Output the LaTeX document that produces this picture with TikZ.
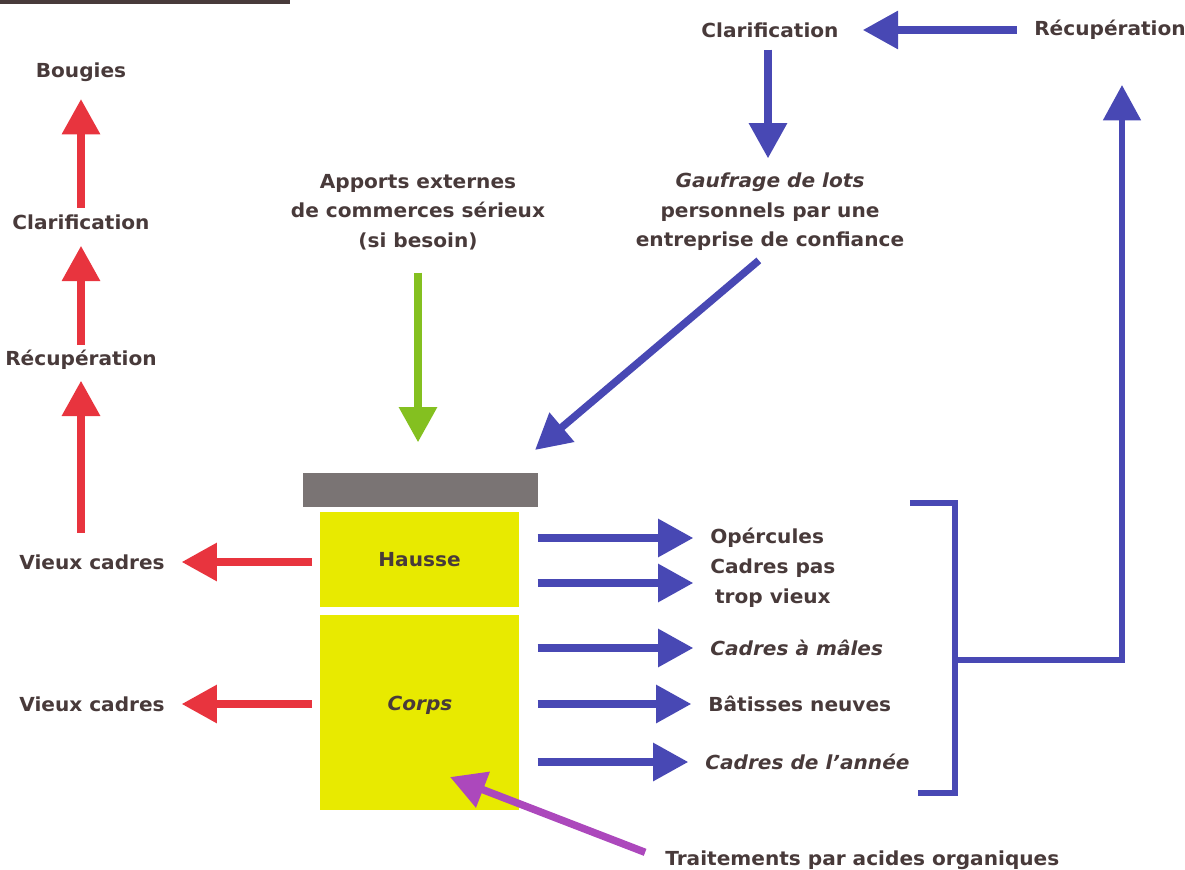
\documentclass[tikz,border=0pt]{standalone}
\usepackage{fontspec}
\setmainfont{DejaVu Sans}[FakeStretch=1.04]
\usepackage{xcolor}
\usetikzlibrary{arrows.meta}

\definecolor{flecheRouge}{RGB}{232,52,62}
\definecolor{flecheBleue}{RGB}{72,72,180}
\definecolor{flecheVerte}{RGB}{132,192,32}
\definecolor{flecheViolette}{RGB}{172,72,188}
\definecolor{cire}{RGB}{232,234,0}
\definecolor{toit}{RGB}{122,116,116}
\definecolor{encre}{RGB}{72,58,58}

\begin{document}
\begin{tikzpicture}[x=0.75pt,y=0.75pt,yscale=-1,xscale=1,
  lbl/.style={font=\bfseries\fontsize{14.5}{22}\selectfont, text=encre, inner sep=0pt, align=center},
  ruche/.style={fill=cire, inner sep=0pt, outer sep=0pt, minimum width=149.25pt},
  fleche/.style={line width=5.6pt, -{Triangle[length=26.5pt,width=27.5pt]}},
  rouge/.style={fleche, draw=flecheRouge},
  bleue/.style={fleche, draw=flecheBleue},
  verte/.style={fleche, draw=flecheVerte},
  violette/.style={fleche, draw=flecheViolette}]
\useasboundingbox (0,0) rectangle (1185,870);

%cut title underline
\draw [encre, line width=3pt] (0,2) -- (290,2) ;

% Left column
\node[lbl] (bougies) at (81,72) {Bougies};
\node[lbl] (clarG) at (81,222) {Clarification};
\node[lbl] (recupG) at (81,360) {Récupération};
\node[lbl] (vieuxH) at (92,562) {Vieux cadres};
\node[lbl] (vieuxC) at (92,704) {Vieux cadres};

% Hive
\node[fill=toit, inner sep=0pt, outer sep=0pt, minimum width=176.25pt, minimum height=25.5pt] (toit) at (420.5,490) {};
\node[ruche, minimum height=71.25pt, lbl] (hausse) at (419.5,559.5) {Hausse};
\node[ruche, minimum height=146.25pt] (corps) at (419.5,712.5) {};
\node[lbl] (corpsTxt) at (420,705) {\itshape Corps};

% Top texts
\node[lbl] (apports) at (418,212) {Apports externes\\de commerces sérieux\\(si besoin)};
\node[lbl] (gaufrage) at (770,212) {\itshape Gaufrage de lots\\personnels par une\\entreprise de confiance};
\node[lbl] (clarD) at (770,30) {Clarification};
\node[lbl] (recupD) at (1110,30) {Récupération};

% Right texts
\node[lbl, anchor=west] (opercules) at (710,538) {Opércules};
\node[lbl, anchor=west] (pasVieux) at (710,583) {Cadres pas\\trop vieux};
\node[lbl, anchor=west] (males) at (710,648) {\itshape Cadres à mâles};
\node[lbl, anchor=west] (batisses) at (708,704) {Bâtisses neuves};
\node[lbl, anchor=west] (annee) at (705,762) {\itshape Cadres de l'année};
\node[lbl, anchor=west] (traitements) at (665,860) {Traitements par acides organiques};

\coordinate (gaufTip) at (535,450);
\coordinate (traitTip) at (450,777);
\coordinate (brkMid) at (955,660);
\coordinate (upTip) at (1122,85);

% Red arrows
\draw[rouge, shorten <=5pt, shorten >=13pt] (clarG) -- (bougies);
\draw[rouge, shorten <=4pt, shorten >=12pt] (recupG) -- (clarG);
\draw[rouge, shorten <=16pt, shorten >=8pt] (vieuxH.north -| recupG) -- (recupG);
\draw[rouge, shorten <=6pt, shorten >=12.5pt] (vieuxH.east -| hausse.west) -- (vieuxH.east);
\draw[rouge, shorten <=6pt, shorten >=12.5pt] (vieuxC.east -| corps.west) -- (vieuxC.east);

% Green and purple
\draw[verte, shorten <=17pt, shorten >=23pt] (apports.south) -- (apports.south |- toit.north);
\draw[violette, shorten <=16pt] (traitements.west) -- (traitTip);

% Blue arrows
\draw[bleue, shorten <=11pt] (gaufrage.south) -- (gaufTip);
\draw[bleue, shorten <=13pt, shorten >=18pt] (recupD.west) -- (clarD.east);
\draw[bleue, shorten <=9pt, shorten >=11pt] (clarD.south -| 768,0) -- (gaufrage.north -| 768,0);
\foreach \cible/\bloc in {opercules/hausse, pasVieux/hausse, males/corps, batisses/corps, annee/corps}
  \draw[bleue, shorten <=14pt, shorten >=12.5pt] (\cible.west -| \bloc.east) -- (\cible.west);

% Bracket
\draw[flecheBleue, line width=4.5pt] (910,503) -- (955,503) -- (955,793) -- (918,793);
\draw[bleue, line width=4.5pt] (brkMid) -| (upTip);

\end{tikzpicture}
\end{document}
